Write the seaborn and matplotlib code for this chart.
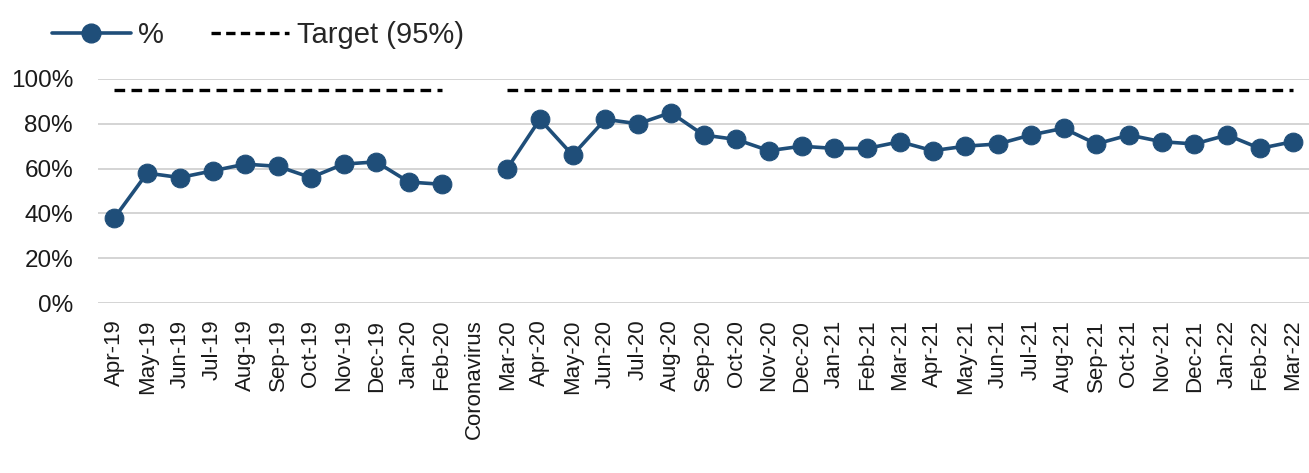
import numpy as np
import pandas as pd
import matplotlib
matplotlib.use("Agg")
import matplotlib.pyplot as plt
from matplotlib.ticker import FuncFormatter
from matplotlib.lines import Line2D
import seaborn as sns

# Monthly categories; "Coronavirus" marks the break in reporting
months = ["Apr-19", "May-19", "Jun-19", "Jul-19", "Aug-19", "Sep-19", "Oct-19",
          "Nov-19", "Dec-19", "Jan-20", "Feb-20", "Coronavirus", "Mar-20",
          "Apr-20", "May-20", "Jun-20", "Jul-20", "Aug-20", "Sep-20", "Oct-20",
          "Nov-20", "Dec-20", "Jan-21", "Feb-21", "Mar-21", "Apr-21", "May-21",
          "Jun-21", "Jul-21", "Aug-21", "Sep-21", "Oct-21", "Nov-21", "Dec-21",
          "Jan-22", "Feb-22", "Mar-22"]

pct = [38, 58, 56, 59, 62, 61, 56, 62, 63, 54, 53, np.nan, 60,
       82, 66, 82, 80, 85, 75, 73, 68, 70, 69, 69, 72, 68, 70,
       71, 75, 78, 71, 75, 72, 71, 75, 69, 72]

target_value = 95
y_ticks = [0, 20, 40, 60, 80, 100]

series_color = "#1f4e79"

sns.set_theme(style="white")
plt.rcParams["font.family"] = ["Liberation Sans", "DejaVu Sans"]

# Build a long table; the gap month splits the series into two segments
df = pd.DataFrame({"month": months, "pct": pct})
df["pos"] = np.arange(len(months))
gap_idx = months.index("Coronavirus")
df["segment"] = np.where(df["pos"] < gap_idx, 0, 1)
df["target"] = np.where(df["pos"] == gap_idx, np.nan, target_value)
plot_df = df.dropna(subset=["pct"])

fig = plt.figure(figsize=(13.09, 4.73), dpi=100)
ax = fig.add_axes([0.0749, 0.3594, 0.9251, 0.4736])

sns.lineplot(data=plot_df, x="pos", y="target", units="segment", estimator=None,
             color="black", linewidth=2.4, dashes=False, ax=ax, legend=False,
             zorder=2)
for line in ax.get_lines():
    line.set_dashes((3.2, 1.9))

sns.lineplot(data=plot_df, x="pos", y="pct", units="segment", estimator=None,
             color=series_color, linewidth=2.6, marker="o", markersize=13.5,
             markeredgecolor=series_color, markerfacecolor=series_color,
             ax=ax, legend=False, zorder=3)

ax.set_xlim(-0.5, len(months) - 0.5)
ax.set_ylim(0, 100)
ax.set_yticks(y_ticks)
ax.yaxis.set_major_formatter(FuncFormatter(lambda v, _: f"{int(v)}%"))
ax.set_xticks(df["pos"])
ax.set_xticklabels(months, rotation=90, fontsize=16, color="#1a1a1a")
ax.tick_params(axis="y", labelsize=17.5, colors="#1a1a1a", length=0, pad=18)
ax.tick_params(axis="x", length=0, pad=12)
ax.set_xlabel("")
ax.set_ylabel("")

ax.grid(axis="y", color="#d4d4d4", linewidth=1.4)
ax.grid(axis="x", visible=False)
for s in ax.spines.values():
    s.set_visible(False)
for m in ax.get_lines():
    m.set_clip_on(False)

handles = [
    Line2D([], [], color=series_color, linewidth=2.6, marker="o",
           markersize=13.5, markerfacecolor=series_color),
    Line2D([], [], color="black", linewidth=2.4, dashes=(2.8, 1.6)),
]
fig.legend(handles, ["%", "Target (95%)"], loc="center left",
           bbox_to_anchor=(52 / 1309, 1 - 35 / 473), ncol=2, frameon=False,
           fontsize=21, handlelength=2.7, handletextpad=0.25,
           columnspacing=1.6, borderaxespad=0, borderpad=0)

fig.savefig("out.png", dpi=100, facecolor="white")
